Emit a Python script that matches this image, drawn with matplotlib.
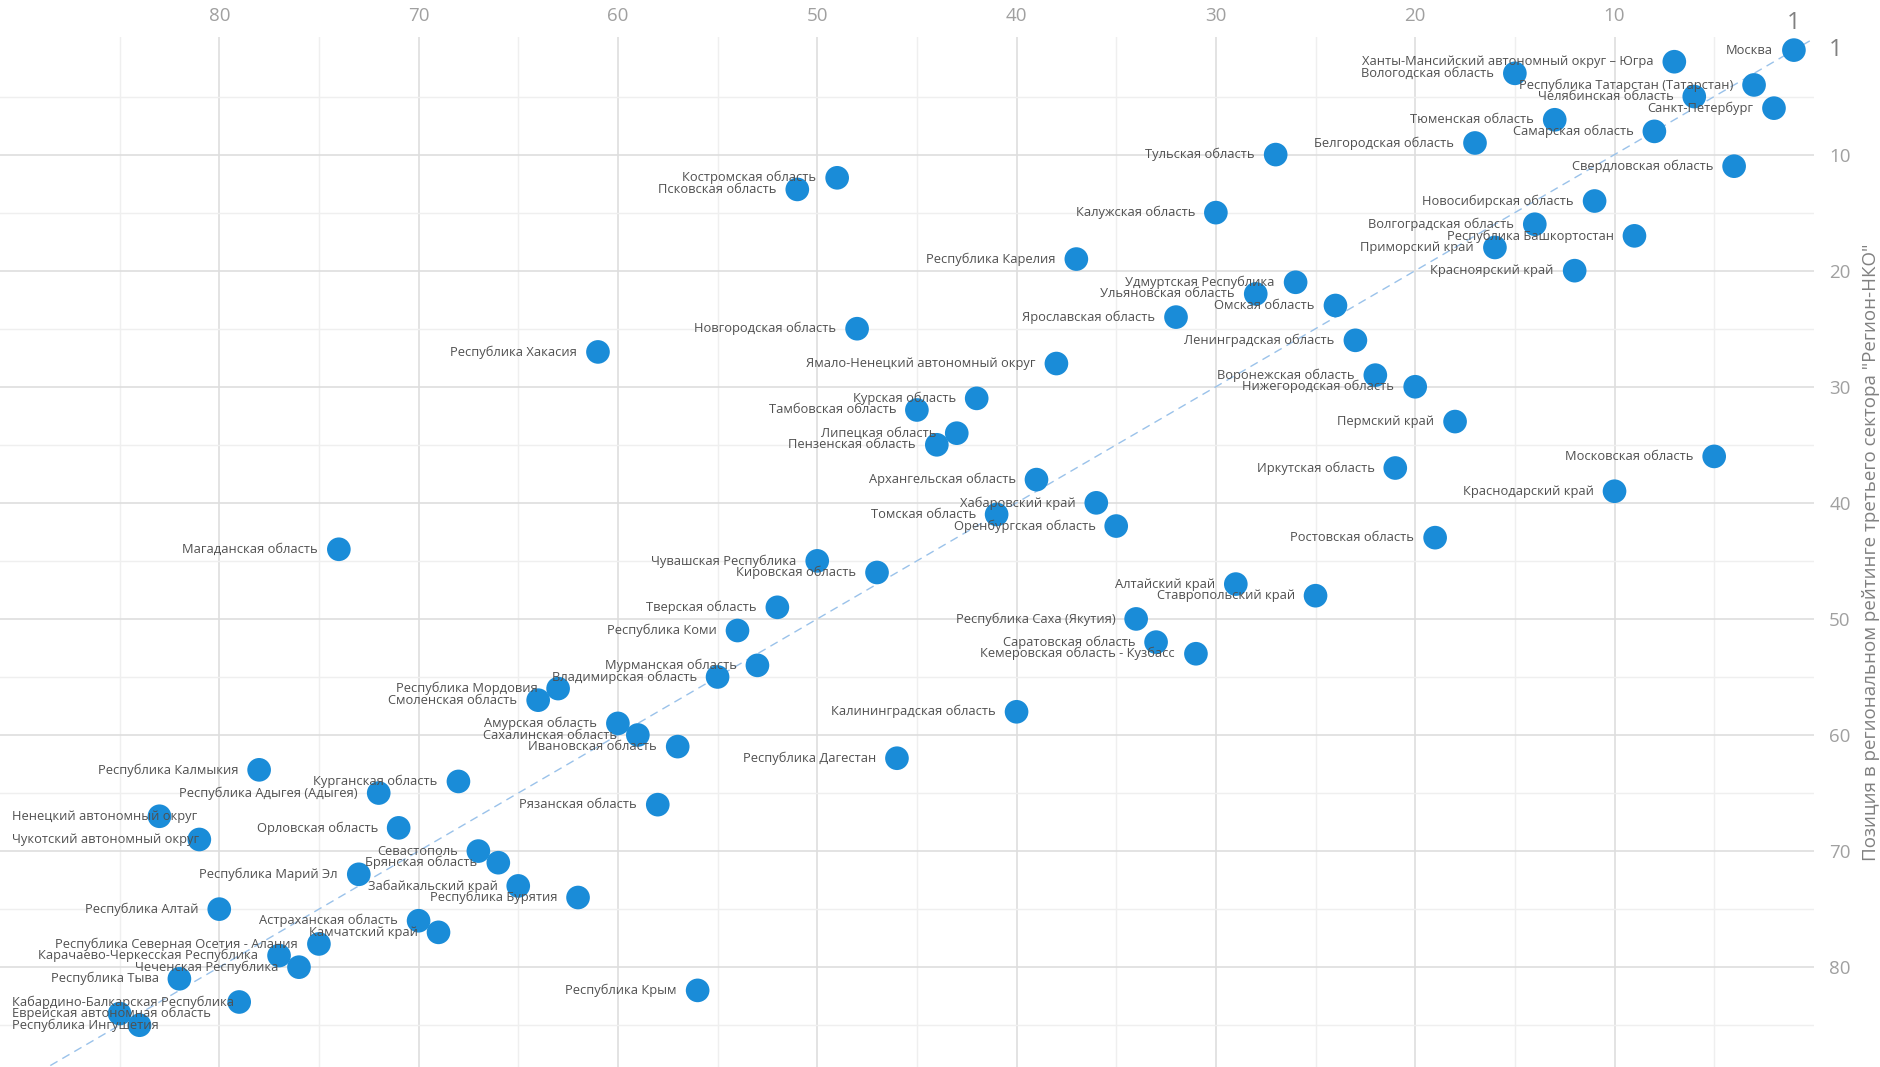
import matplotlib.pyplot as plt
import matplotlib.transforms as mtransforms
import numpy as np

plt.rcParams['font.family'] = ['Open Sans', 'DejaVu Sans']

# regions ordered by position in the "Регион-НКО" rating
regions = [
    "Москва", "Ханты-Мансийский автономный округ – Югра", "Вологодская область",
    "Республика Татарстан (Татарстан)", "Челябинская область", "Санкт-Петербург",
    "Тюменская область", "Самарская область", "Белгородская область", "Тульская область",
    "Свердловская область", "Костромская область", "Псковская область",
    "Новосибирская область", "Калужская область", "Волгоградская область",
    "Республика Башкортостан", "Приморский край", "Республика Карелия",
    "Красноярский край", "Удмуртская Республика", "Ульяновская область",
    "Омская область", "Ярославская область", "Новгородская область",
    "Ленинградская область", "Республика Хакасия", "Ямало-Ненецкий автономный округ",
    "Воронежская область", "Нижегородская область", "Курская область",
    "Тамбовская область", "Пермский край", "Липецкая область", "Пензенская область",
    "Московская область", "Иркутская область", "Архангельская область",
    "Краснодарский край", "Хабаровский край", "Томская область", "Оренбургская область",
    "Ростовская область", "Магаданская область", "Чувашская Республика",
    "Кировская область", "Алтайский край", "Ставропольский край", "Тверская область",
    "Республика Саха (Якутия)", "Республика Коми", "Саратовская область",
    "Кемеровская область - Кузбасс", "Мурманская область", "Владимирская область",
    "Республика Мордовия", "Смоленская область", "Калининградская область",
    "Амурская область", "Сахалинская область", "Ивановская область",
    "Республика Дагестан", "Республика Калмыкия", "Курганская область",
    "Республика Адыгея (Адыгея)", "Рязанская область", "Ненецкий автономный округ",
    "Орловская область", "Чукотский автономный округ", "Севастополь",
    "Брянская область", "Республика Марий Эл", "Забайкальский край",
    "Республика Бурятия", "Республика Алтай", "Астраханская область",
    "Камчатский край", "Республика Северная Осетия - Алания",
    "Карачаево-Черкесская Республика", "Чеченская Республика", "Республика Тыва",
    "Республика Крым", "Кабардино-Балкарская Республика",
    "Еврейская автономная область", "Республика Ингушетия",
]

nko_rank = list(range(1, 86))

other_rank = [
    1, 7, 15, 3, 6, 2, 13, 8, 17, 27,
    4, 49, 51, 11, 30, 14, 9, 16, 37, 12,
    26, 28, 24, 32, 48, 23, 61, 38, 22, 20,
    42, 45, 18, 43, 44, 5, 21, 39, 10, 36,
    41, 35, 19, 74, 50, 47, 29, 25, 52, 34,
    54, 33, 31, 53, 55, 63, 64, 40, 60, 59,
    57, 46, 78, 68, 72, 58, 83, 71, 81, 67,
    66, 73, 65, 62, 80, 70, 69, 75, 77, 76,
    82, 56, 79, 85, 84,
]

x_major = [80, 70, 60, 50, 40, 30, 20, 10]
y_major = [10, 20, 30, 40, 50, 60, 70, 80]

fig = plt.figure(figsize=(18.81, 10.67), dpi=100)
ax = fig.add_axes([0.0, 0.0, 0.9643, 0.965])

ax.set_xlim(91, 0)
ax.set_ylim(88.6, -0.1)

ax.plot([-1, 92], [-1, 92], linestyle=(0, (6, 4)), color='#9ac2ea', linewidth=1.0, zorder=1)

ax.scatter(other_rank, nko_rank, s=290, color='#1a8cd8', edgecolors='none', zorder=3)
labels = []
for name, xv, yv in zip(regions, other_rank, nko_rank):
    t = ax.annotate(name, (xv, yv), xytext=(-15, 0), textcoords='offset points',
                    ha='right', va='center', fontsize=9.3, color='#505050', zorder=4)
    labels.append(t)

ax.xaxis.tick_top()
ax.yaxis.tick_right()
ax.set_xticks(x_major)
ax.set_yticks(y_major)
ax.set_xticks(np.arange(5, 91, 10), minor=True)
ax.set_yticks(np.arange(5, 91, 10), minor=True)
ax.tick_params(which='both', length=0)
ax.tick_params(axis='x', pad=9, labelsize=13.5, labelcolor='#a0a0a0')
ax.tick_params(axis='y', pad=11, labelsize=13.5, labelcolor='#a0a0a0')
ax.grid(which='major', color='#dedede', linewidth=1.2, zorder=0)
ax.grid(which='minor', color='#efefef', linewidth=1.0, zorder=0)
ax.set_axisbelow(True)
for sp in ax.spines.values():
    sp.set_visible(False)

# the larger "1" labels at the top and at the right
tx = mtransforms.blended_transform_factory(ax.transData, ax.transAxes)
ax.text(1, 1.002, "1", transform=tx, ha='center', va='bottom', fontsize=17, color='#808080')
ty = mtransforms.blended_transform_factory(ax.transAxes, ax.transData)
ax.text(1.008, 1, "1", transform=ty, ha='left', va='center', fontsize=17, color='#808080')

ax.yaxis.set_label_position('right')
ax.set_ylabel('Позиция в региональном рейтинге третьего сектора "Регион-НКО"',
              fontsize=13.5, color='#808080', labelpad=8)

# keep labels inside the chart on the left, like the data labels of the original
fig.canvas.draw()
renderer = fig.canvas.get_renderer()
for t in labels:
    bb = t.get_window_extent(renderer)
    if bb.x0 < 12:
        dx = (12 - bb.x0) * 72.0 / fig.dpi
        ox, oy = t.xyann
        t.xyann = (ox + dx, oy)

fig.savefig('out.png', dpi=100)
